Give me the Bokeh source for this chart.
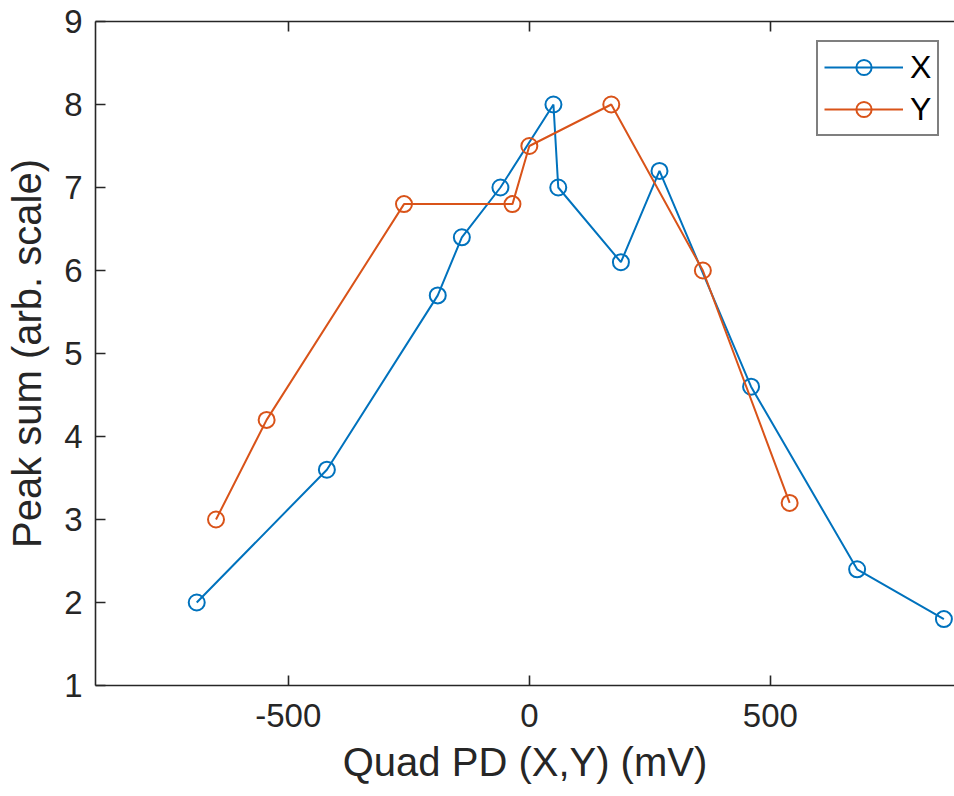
from bokeh.plotting import figure
from bokeh.models import LinearAxis, Range1d, FixedTicker, Legend, LegendItem
from bokeh.embed import file_html
from bokeh.resources import INLINE

# Data
x_pos = [-690, -420, -190, -140, -60, 50, 60, 190, 270, 460, 680, 860]
x_sum = [2.0, 3.6, 5.7, 6.4, 7.0, 8.0, 7.0, 6.1, 7.2, 4.6, 2.4, 1.8]
y_pos = [-650, -545, -260, -35, 0, 170, 360, 540]
y_sum = [3.0, 4.2, 6.8, 6.8, 7.5, 8.0, 6.0, 3.2]
x_ticks = [-500, 0, 500]
x_tick_labels = ["-500", "0", "500"]
y_ticks = [1, 2, 3, 4, 5, 6, 7, 8, 9]

BLUE = "#0072BD"
ORANGE = "#D95319"
AX = "#262626"
FONT = "Liberation Sans"

p = figure(width=954, height=796, output_backend="svg", toolbar_location=None,
           x_range=Range1d(-900, 882), y_range=Range1d(1, 9),
           min_border_left=95, min_border_right=0, min_border_top=21, min_border_bottom=111)
p.outline_line_color = None
p.xgrid.visible = False
p.ygrid.visible = False
p.background_fill_color = "white"
p.border_fill_color = "white"

def style_axis(ax, size="33px"):
    ax.axis_line_color = AX
    ax.axis_line_width = 1.6
    ax.major_tick_line_color = AX
    ax.major_tick_line_width = 1.6
    ax.major_tick_in = 10
    ax.major_tick_out = 0
    ax.minor_tick_line_color = None
    ax.major_label_text_font = FONT
    ax.major_label_text_color = AX
    ax.major_label_text_font_size = size
    ax.axis_label_text_font = FONT
    ax.axis_label_text_font_size = "40px"
    ax.axis_label_text_font_style = "normal"
    ax.axis_label_text_color = AX

xa = p.xaxis[0]
ya = p.yaxis[0]
style_axis(xa)
style_axis(ya)
xa.ticker = FixedTicker(ticks=x_ticks)
xa.major_label_overrides = {t: s for t, s in zip(x_ticks, x_tick_labels)}
ya.ticker = FixedTicker(ticks=y_ticks)
xa.axis_label = "Quad PD (X,Y) (mV)"
ya.axis_label = "Peak sum (arb. scale)"
xa.major_label_standoff = 18
xa.axis_label_standoff = 10
ya.major_label_standoff = 13
ya.axis_label_standoff = 12

# top border of the box with inward ticks, no labels
top = LinearAxis(ticker=FixedTicker(ticks=x_ticks))
style_axis(top, size="10px")
top.major_label_overrides = {t: "" for t in x_ticks}
top.major_label_standoff = 0
p.add_layout(top, "above")

lx = p.line(x_pos, x_sum, line_color=BLUE, line_width=2)
sx = p.scatter(x_pos, x_sum, marker="circle", size=16, fill_color=None,
               line_color=BLUE, line_width=2)
ly = p.line(y_pos, y_sum, line_color=ORANGE, line_width=2)
sy = p.scatter(y_pos, y_sum, marker="circle", size=16, fill_color=None,
               line_color=ORANGE, line_width=2)

legend = Legend(items=[LegendItem(label="X", renderers=[lx, sx]),
                       LegendItem(label="Y", renderers=[ly, sy])],
                location=(721, 549))
legend.label_text_font = FONT
legend.label_text_font_size = "32px"
legend.label_text_color = "black"
legend.glyph_width = 79
legend.glyph_height = 38
legend.label_height = 38
legend.label_standoff = 7
legend.spacing = 4
legend.padding = 6
legend.margin = 0
legend.border_line_color = "black"
legend.border_line_width = 2
legend.background_fill_color = "white"
legend.background_fill_alpha = 1
p.add_layout(legend)

open("out.html", "w").write(file_html(p, INLINE))
